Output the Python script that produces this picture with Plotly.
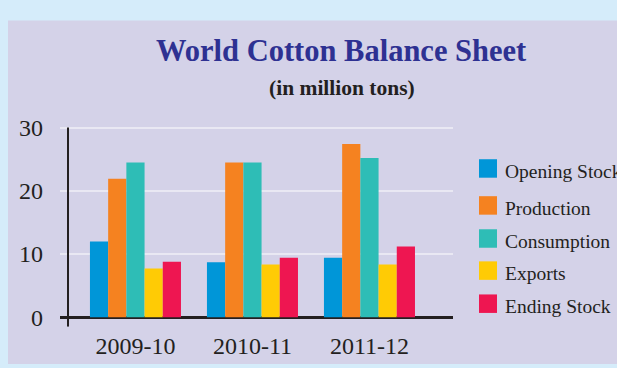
import plotly.graph_objects as go

W, H = 617, 368

seasons = ["2009-10", "2010-11", "2011-12"]
series_names = ["Opening Stock", "Production", "Consumption", "Exports", "Ending Stock"]
series_colors = ["#0096d8", "#f58220", "#2ebdb6", "#ffcb05", "#ee1651"]
opening_stock = [12.0, 8.7, 9.4]
production = [21.9, 24.5, 27.4]
consumption = [24.5, 24.5, 25.2]
exports = [7.7, 8.35, 8.35]
ending_stock = [8.8, 9.4, 11.2]
series_values = [opening_stock, production, consumption, exports, ending_stock]
y_ticks = [0, 10, 20, 30]

FONT = "Liberation Serif"
TXT = "#231f20"

fig = go.Figure()
for name, color, vals in zip(series_names, series_colors, series_values):
    fig.add_trace(go.Bar(x=seasons, y=vals, name=name, marker=dict(color=color, line=dict(width=0)),
                         showlegend=False))

def px_x(p):
    return p / W

def px_y(p):
    return (H - p) / H

ymin, ymax = -1.5, 31
# pixel mapping: value 0 at 320, 6.5 px per unit
y_bottom_px = 320 - 6.5 * ymin
y_top_px = 320 - 6.5 * ymax

shapes = [
    # lavender panel
    dict(type="rect", xref="paper", yref="paper", x0=px_x(8), x1=1.0, y0=0, y1=px_y(15),
         fillcolor="#d4d2e8", line=dict(width=0), layer="below"),
    # vertical y axis line
    dict(type="line", xref="paper", yref="y", x0=px_x(68), x1=px_x(68), y0=ymin, y1=30,
         line=dict(color=TXT, width=2)),
]

annotations = [
    dict(text="World Cotton Balance Sheet", xref="paper", yref="paper", x=px_x(341), y=px_y(46),
         xanchor="center", yanchor="middle", showarrow=False,
         font=dict(family=FONT, size=30.5, color="#2e3192", weight="bold")),
    dict(text="(in million tons)", xref="paper", yref="paper", x=px_x(342), y=px_y(84),
         xanchor="center", yanchor="middle", showarrow=False,
         font=dict(family=FONT, size=21.5, color=TXT, weight="bold")),
]

legend_centers = [167, 205, 239, 272, 306]
for name, color, cy in zip(series_names, series_colors, legend_centers):
    shapes.append(dict(type="rect", xref="paper", yref="paper", x0=px_x(479), x1=px_x(497),
                       y0=px_y(cy + 9.5), y1=px_y(cy - 9.5), fillcolor=color, line=dict(width=0)))
    annotations.append(dict(text=name, xref="paper", yref="paper", x=px_x(503), y=px_y(cy + 3),
                            xanchor="left", yanchor="middle", showarrow=False,
                            font=dict(family=FONT, size=19.5, color=TXT)))

fig.update_layout(
    width=W, height=H,
    margin=dict(l=0, r=0, t=0, b=0),
    paper_bgcolor="#d5ecfa",
    plot_bgcolor="rgba(0,0,0,0)",
    barmode="group", bargap=0.222, bargroupgap=0,
    shapes=shapes, annotations=annotations,
    showlegend=False,
    xaxis=dict(domain=[px_x(60), px_x(453)], range=[-0.645, 2.714], type="category",
               showgrid=False, zeroline=False, showline=False, ticks="",
               tickfont=dict(family=FONT, size=24, color=TXT), ticklabelstandoff=2),
    yaxis=dict(domain=[px_y(y_bottom_px), px_y(y_top_px)], range=[ymin, ymax],
               tickvals=y_ticks, ticktext=[str(v) for v in y_ticks],
               showgrid=True, gridcolor="#e9e8f3", gridwidth=2,
               zeroline=True, zerolinecolor=TXT, zerolinewidth=2.5, showline=False, ticks="",
               tickfont=dict(family=FONT, size=24, color=TXT), ticklabelstandoff=16),
)

fig.write_html("out.html")
